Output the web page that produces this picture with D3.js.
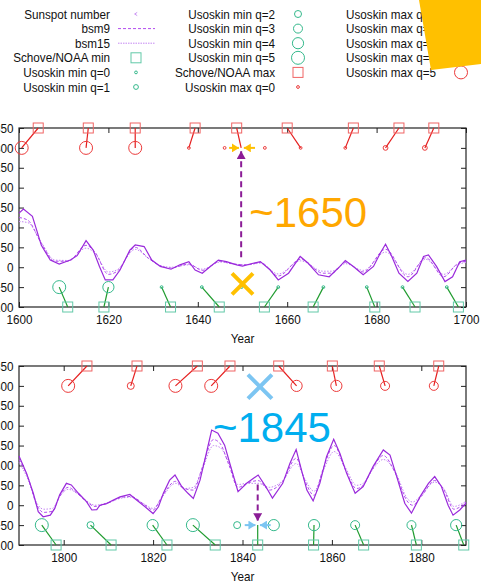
<!DOCTYPE html>
<html>
<head>
<meta charset="utf-8">
<script src="https://cdn.jsdelivr.net/npm/d3@7"></script>
<style>
  html, body { margin: 0; padding: 0; background: #fff; overflow: hidden; }
  svg { display: block; font-family: "Liberation Sans", Arial, Helvetica, sans-serif; }
</style>
</head>
<body>
<svg id="chart" width="481" height="588"></svg>
<script>
// ---------------- data: 1600–1700 ----------------
const yearsSsnEarly = [1600, 1601, 1603, 1605, 1607, 1609, 1611.5, 1613, 1615, 1616.6, 1618, 1619.3, 1621, 1622.6,
  1624.8, 1626, 1628, 1629.7, 1631.6, 1634, 1636, 1638, 1639.4, 1641, 1642.8, 1644.6, 1646.4, 1648.7, 1650,
  1651.7, 1654, 1656.2, 1658, 1660.3, 1662.9, 1664.7, 1667, 1669.4, 1671.8, 1673, 1674.8, 1677, 1679.3, 1680.8,
  1682, 1683.4, 1685, 1687, 1689, 1690.5, 1691.6, 1693.4, 1695.3, 1697, 1698.6, 1700];
const ssnEarly = [136, 146, 128, 55, 18, 8, 18, 29, 67, 43, 2, -32, -32, -7,
  43, 56, 52, 18, 2, -5, 6, 14, -7, -15, 2, 18, 14, 6, 3,
  8, 14, -7, -32, -15, 27, 10, -19, -24, 2, 17, 2, -19, 2, 35,
  58, 27, -15, -36, -15, 27, 31, 2, -36, -24, 14, 18];

const yearsBsmEarly = [1600, 1602, 1605, 1608, 1611, 1615, 1617, 1620, 1622, 1626, 1629, 1632, 1634, 1638, 1641,
  1645, 1648, 1651, 1654, 1658, 1663, 1668, 1670, 1673, 1677, 1682, 1687, 1691, 1695, 1698, 1700];
const bsm9Early = [125, 118, 60, 15, 15, 55, 38, -18, -10, 50, 22, 2, -2, 8, -8,
  15, 8, 6, 12, -22, 20, -15, -15, 12, -12, 45, -24, 24, -24, 8, 15];
const bsm15Early = [115, 112, 62, 18, 17, 48, 35, -12, -6, 45, 22, 3, 0, 6, -5,
  13, 8, 6, 10, -17, 16, -10, -10, 9, -8, 38, -18, 20, -18, 6, 12];

// Schove/NOAA maxima paired with Usoskin maxima (q = quality)
const schoveMaxEarly = [1604.3, 1615.5, 1626, 1639.4, 1660, 1674.8, 1685, 1692.8];
const usoMaxEarly    = [1600.6, 1615, 1626, 1638, 1663, 1673, 1682, 1690.8];
const usoMaxEarlyQ   = [5, 5, 5, 0, 0, 0, 1, 1];
const soloMaxEarly   = [1646, 1655];
const soloMaxEarlyQ  = [0, 0];
const schoveMinEarly = [1610.9, 1619, 1633.9, 1644.8, 1654.9, 1665.8, 1679.6, 1688.6, 1698.3];
const usoMinEarly    = [1609, 1620, 1631.9, 1640.9, 1658, 1668.1, 1677.8, 1685.8, 1695.7];
const usoMinEarlyQ   = [5, 4, 0, 0, 0, 0, 0, 0, 0];
const soloMinEarly   = [1649.8];
const soloMinEarlyQ  = [0];
// ambiguous maximum near 1650
const schoveAmbMaxEarly = 1648.7;
const ambMaxEarly = 1649.7;

// ---------------- data: 1790–1890 ----------------
const yearsSsnLate = [1790, 1791.7, 1793.2, 1794.3, 1795.4, 1797, 1798, 1799.1, 1800.6, 1801.7, 1803.3, 1805.1,
  1806.3, 1807.4, 1808.1, 1809.6, 1811.1, 1812.6, 1814.8, 1816.3, 1818.2, 1820, 1821.2, 1822.3, 1823.7, 1824.9,
  1826.4, 1827.8, 1829, 1830.5, 1831.9, 1833.1, 1834.5, 1836, 1837.6, 1839, 1841, 1843.5, 1845.3, 1846.7, 1849,
  1850.6, 1852, 1853.2, 1854.4, 1855.8, 1857.3, 1858.8, 1860.4, 1861.8, 1863.3, 1865.2, 1867, 1869.2, 1871.5,
  1873, 1874.5, 1876.3, 1877.8, 1879.7, 1881.6, 1883, 1884.5, 1886, 1887.1, 1888.6, 1890];
const ssnLate = [124, 80, 30, -16, -29, -25, -8, 26, 55, 51, 30, 9,
  -12, -11, 0, 4, 13, 21, 27, 13, -4, -21, -4, 30, 63, 76,
  47, 30, 17, 63, 130, 189, 181, 151, 88, 34, 56, 76, 45, 18, 55,
  105, 140, 88, 38, 11, 55, 122, 166, 130, 80, 30, 47, 97, 139,
  126, 72, 5, -20, 21, 55, 72, 47, 0, -25, -12, 5];

const yearsBsmLate = [1790, 1792, 1794, 1795.5, 1797.5, 1799, 1801, 1803, 1805, 1807, 1810, 1813, 1815, 1818, 1820,
  1822, 1825, 1827, 1829, 1831, 1833.5, 1835, 1837, 1839, 1841, 1843.5, 1846, 1849, 1852, 1854, 1856, 1858,
  1860.5, 1863, 1865.5, 1867, 1869, 1871.5, 1874, 1877, 1878, 1880, 1883, 1885, 1887.3, 1890];
const bsm9Late = [115, 70, 0, -18, -15, 20, 45, 30, 10, -3, 6, 20, 22, 2, -12,
  22, 60, 42, 38, 95, 165, 155, 100, 45, 55, 62, 38, 60, 118, 60, 25, 90,
  150, 90, 42, 50, 90, 125, 85, 8, 0, 22, 62, 40, -10, 8];
const bsm15Late = [108, 65, 5, -10, -8, 20, 40, 30, 12, 0, 7, 18, 20, 3, -8,
  20, 55, 42, 45, 90, 150, 145, 105, 52, 55, 55, 45, 62, 105, 65, 35, 85,
  135, 95, 50, 55, 88, 115, 88, 15, 8, 25, 58, 42, -3, 10];

const schoveMaxLate = [1805.2, 1816.4, 1829.9, 1837.2, 1848.1, 1860.1, 1870.6, 1883.9];
const usoMaxLate    = [1801, 1815, 1825, 1833, 1852.1, 1861, 1871.9, 1882.8];
const usoMaxLateQ   = [5, 2, 5, 5, 4, 4, 3, 3];
const soloMaxLate   = [];
const soloMaxLateQ  = [];
const schoveMinLate = [1798.3, 1810.6, 1823.1, 1833.9, 1855.9, 1867.1, 1878.9, 1889.5];
const usoMinLate    = [1795.1, 1806, 1819.9, 1828.9, 1856, 1865.2, 1877.8, 1887.8];
const usoMinLateQ   = [5, 2, 4, 5, 4, 3, 3, 4];
const soloMinLate   = [1838.8, 1847];
const soloMinLateQ  = [2, 4];
// ambiguous minimum near 1845
const schoveAmbMinLate = 1843.4;
const ambMinLate = 1843.4;

// ---------------- axis / legend text ----------------
const yTicks = [350, 300, 250, 200, 150, 100, 50, 0, -50, -100];
const xTicksEarly = [1600, 1620, 1640, 1660, 1680, 1700];
const xTicksLate = [1800, 1820, 1840, 1860, 1880];
const xTitle = "Year";
const legendLabels = [
  "Sunspot number", "bsm9", "bsm15", "Schove/NOAA min", "Usoskin min q=0", "Usoskin min q=1",
  "Usoskin min q=2", "Usoskin min q=3", "Usoskin min q=4", "Usoskin min q=5", "Schove/NOAA max", "Usoskin max q=0",
  "Usoskin max q=1", "Usoskin max q=2", "Usoskin max q=3", "Usoskin max q=4", "Usoskin max q=5"
];
const labelEarly = "~1650";
const labelLate = "~1845";

// ---------------- styles ----------------
const C = {
  ssn: "#9A2ADB", bsm9: "#B24BF0", bsm15: "#C487F2",
  minCircle: "#35B98C", minSquare: "#62C9A8", minLink: "#1F9B2E",
  maxCircle: "#EC3A3A", maxSquare: "#F06464", maxLink: "#E51E1E",
  purpleArrow: "#8B1C96", gold: "#FFC000", orangeText: "#FFA700",
  blueText: "#00AEEF", lightBlue: "#7CC5F2"
};
const qRadius = [1.4, 2.4, 3.5, 4.5, 5.6, 6.5];
const SQ = 10;
const TXT_SX = 0.9;
const PLOT_L = 19, PLOT_R = 466;

const svg = d3.select("#chart");
const defs = svg.append("defs");
function arrowMarker(id, color, w, h) {
  defs.append("marker").attr("id", id).attr("viewBox", `0 -${h / 2} ${w} ${h}`)
    .attr("refX", w).attr("refY", 0).attr("markerUnits", "userSpaceOnUse")
    .attr("markerWidth", w).attr("markerHeight", h).attr("orient", "auto")
    .append("path").attr("d", `M0,-${h / 2}L${w},0L0,${h / 2}Z`).attr("fill", color);
}
arrowMarker("ahPurple", C.purpleArrow, 8, 9);
arrowMarker("ahGold", C.gold, 7, 9);
arrowMarker("ahBlue", C.lightBlue, 7, 9);

function smallText(g, x, y, str, anchor, size) {
  return g.append("text")
    .attr("transform", `translate(${x},${y}) scale(${TXT_SX},1)`)
    .attr("text-anchor", anchor).attr("dy", "0.35em")
    .attr("font-size", size || 13).attr("fill", "#111").text(str);
}

function drawPanel(p) {
  const x = d3.scaleLinear().domain(p.xDomain).range([PLOT_L, PLOT_R]);
  const y = d3.scaleLinear().domain([-100, 350]).range([p.bottom, p.top]);
  const g = svg.append("g");

  // frame + inward ticks
  g.append("rect").attr("x", PLOT_L).attr("y", p.top).attr("width", PLOT_R - PLOT_L)
    .attr("height", p.bottom - p.top).attr("fill", "none").attr("stroke", "#222").attr("stroke-width", 1.2);
  const axes = [
    [d3.axisLeft(y).tickValues(yTicks).tickSizeInner(-5).tickSizeOuter(0).tickPadding(6), `translate(${PLOT_L},0)`, true],
    [d3.axisRight(y).tickValues(yTicks).tickSizeInner(-5).tickSizeOuter(0).tickFormat(""), `translate(${PLOT_R},0)`, false],
    [d3.axisBottom(x).tickValues(p.xTicks).tickSizeInner(-5).tickSizeOuter(0).tickPadding(8).tickFormat(d3.format("d")), `translate(0,${p.bottom})`, true],
    [d3.axisTop(x).tickValues(p.xTicks).tickSizeInner(-5).tickSizeOuter(0).tickFormat(""), `translate(0,${p.top})`, false]
  ];
  axes.forEach(([ax, tr]) => {
    const a = g.append("g").attr("transform", tr).call(ax);
    a.select(".domain").remove();
    a.selectAll(".tick line").attr("stroke", "#222");
    a.selectAll(".tick text").attr("font-size", 13).attr("fill", "#111")
      .attr("font-family", "Liberation Sans, Arial, sans-serif")
      .attr("transform", `scale(${TXT_SX},1)`);
  });
  smallText(g, (PLOT_L + PLOT_R) / 2, p.bottom + 31, xTitle, "middle");

  // series
  const mk = (xs, curve) => d3.line().x((d, i) => x(xs[i])).y(d => y(d)).curve(curve);
  g.append("path").attr("d", mk(p.bsmYears, d3.curveMonotoneX)(p.bsm15)).attr("fill", "none")
    .attr("stroke", C.bsm15).attr("stroke-width", 1).attr("stroke-dasharray", "1.5,1.5");
  g.append("path").attr("d", mk(p.bsmYears, d3.curveMonotoneX)(p.bsm9)).attr("fill", "none")
    .attr("stroke", C.bsm9).attr("stroke-width", 1).attr("stroke-dasharray", "3,2");
  g.append("path").attr("d", mk(p.ssnYears, d3.curveLinear)(p.ssn)).attr("fill", "none")
    .attr("stroke", C.ssn).attr("stroke-width", 1.2);

  // links Schove/NOAA -> Usoskin
  p.schoveMin.forEach((s, i) => g.append("line").attr("x1", x(s)).attr("y1", y(-100))
    .attr("x2", x(p.usoMin[i])).attr("y2", y(-50)).attr("stroke", C.minLink).attr("stroke-width", 1.2));
  p.schoveMax.forEach((s, i) => g.append("line").attr("x1", x(s)).attr("y1", y(350))
    .attr("x2", x(p.usoMax[i])).attr("y2", y(300)).attr("stroke", C.maxLink).attr("stroke-width", 1.2));
  if (p.ambMax) g.append("line").attr("x1", x(p.ambMax[0])).attr("y1", y(350))
    .attr("x2", x(p.ambMax[1])).attr("y2", y(300)).attr("stroke", C.maxLink).attr("stroke-width", 1.2);
  if (p.ambMin) g.append("line").attr("x1", x(p.ambMin[0])).attr("y1", y(-100))
    .attr("x2", x(p.ambMin[1])).attr("y2", y(-50)).attr("stroke", C.minLink).attr("stroke-width", 1.2);

  // symbols
  const sq = (yr, v, col) => g.append("rect").attr("x", x(yr) - SQ / 2).attr("y", y(v) - SQ / 2)
    .attr("width", SQ).attr("height", SQ).attr("fill", "none").attr("stroke", col).attr("stroke-width", 1);
  const circ = (yr, v, q, col) => g.append("circle").attr("cx", x(yr)).attr("cy", y(v))
    .attr("r", qRadius[q]).attr("fill", "none").attr("stroke", col).attr("stroke-width", 1);
  p.schoveMin.concat(p.ambMin ? [p.ambMin[0]] : []).forEach(s => sq(s, -100, C.minSquare));
  p.schoveMax.concat(p.ambMax ? [p.ambMax[0]] : []).forEach(s => sq(s, 350, C.maxSquare));
  p.usoMin.forEach((u, i) => circ(u, -50, p.usoMinQ[i], C.minCircle));
  p.soloMin.forEach((u, i) => circ(u, -50, p.soloMinQ[i], C.minCircle));
  p.usoMax.forEach((u, i) => circ(u, 300, p.usoMaxQ[i], C.maxCircle));
  p.soloMax.forEach((u, i) => circ(u, 300, p.soloMaxQ[i], C.maxCircle));

  return { g, x, y };
}

// ---------------- upper panel ----------------
const up = drawPanel({
  top: 128, bottom: 307, xDomain: [1600, 1700], xTicks: xTicksEarly,
  ssnYears: yearsSsnEarly, ssn: ssnEarly, bsmYears: yearsBsmEarly, bsm9: bsm9Early, bsm15: bsm15Early,
  schoveMax: schoveMaxEarly, usoMax: usoMaxEarly, usoMaxQ: usoMaxEarlyQ, soloMax: soloMaxEarly, soloMaxQ: soloMaxEarlyQ,
  schoveMin: schoveMinEarly, usoMin: usoMinEarly, usoMinQ: usoMinEarlyQ, soloMin: soloMinEarly, soloMinQ: soloMinEarlyQ,
  ambMax: [schoveAmbMaxEarly, ambMaxEarly]
});
{
  const { g, x, y } = up;
  // dashed pointer from the curve up to the maximum row
  g.append("line").attr("x1", x(ambMaxEarly)).attr("y1", y(25)).attr("x2", x(ambMaxEarly)).attr("y2", y(292))
    .attr("stroke", C.purpleArrow).attr("stroke-width", 2).attr("stroke-dasharray", "6,4")
    .attr("marker-end", "url(#ahPurple)");
  // converging arrows on the maximum row
  g.append("line").attr("x1", x(1647)).attr("y1", y(300)).attr("x2", x(1649.2)).attr("y2", y(300))
    .attr("stroke", C.gold).attr("stroke-width", 2).attr("marker-end", "url(#ahGold)");
  g.append("line").attr("x1", x(1652.8)).attr("y1", y(300)).attr("x2", x(1650.3)).attr("y2", y(300))
    .attr("stroke", C.gold).attr("stroke-width", 2).attr("marker-end", "url(#ahGold)");
  // cross at the missing minimum
  const cx = x(1650), cy = y(-42), h = 10.5;
  g.append("path").attr("d", `M${cx - h},${cy - h}L${cx + h},${cy + h}M${cx - h},${cy + h}L${cx + h},${cy - h}`)
    .attr("stroke", C.gold).attr("stroke-width", 4).attr("fill", "none");
  g.append("text").attr("x", x(1651.5)).attr("y", y(100)).attr("font-size", 42)
    .attr("fill", C.orangeText).text(labelEarly);
}

// ---------------- lower panel ----------------
const lo = drawPanel({
  top: 366, bottom: 545, xDomain: [1790, 1890], xTicks: xTicksLate,
  ssnYears: yearsSsnLate, ssn: ssnLate, bsmYears: yearsBsmLate, bsm9: bsm9Late, bsm15: bsm15Late,
  schoveMax: schoveMaxLate, usoMax: usoMaxLate, usoMaxQ: usoMaxLateQ, soloMax: soloMaxLate, soloMaxQ: soloMaxLateQ,
  schoveMin: schoveMinLate, usoMin: usoMinLate, usoMinQ: usoMinLateQ, soloMin: soloMinLate, soloMinQ: soloMinLateQ,
  ambMin: [schoveAmbMinLate, ambMinLate]
});
{
  const { g, x, y } = lo;
  g.append("line").attr("x1", x(ambMinLate)).attr("y1", y(52)).attr("x2", x(ambMinLate)).attr("y2", y(-40))
    .attr("stroke", C.purpleArrow).attr("stroke-width", 2).attr("stroke-dasharray", "6,4")
    .attr("marker-end", "url(#ahPurple)");
  g.append("line").attr("x1", x(1840.5)).attr("y1", y(-50)).attr("x2", x(1842.9)).attr("y2", y(-50))
    .attr("stroke", C.lightBlue).attr("stroke-width", 2).attr("marker-end", "url(#ahBlue)");
  g.append("line").attr("x1", x(1846.3)).attr("y1", y(-50)).attr("x2", x(1843.9)).attr("y2", y(-50))
    .attr("stroke", C.lightBlue).attr("stroke-width", 2).attr("marker-end", "url(#ahBlue)");
  const cx = x(1843.9), cy = y(298), h = 12;
  g.append("path").attr("d", `M${cx - h},${cy - h}L${cx + h},${cy + h}M${cx - h},${cy + h}L${cx + h},${cy - h}`)
    .attr("stroke", C.lightBlue).attr("stroke-width", 4).attr("fill", "none");
  g.append("text").attr("x", x(1833.4)).attr("y", y(159)).attr("font-size", 42)
    .attr("fill", C.blueText).text(labelLate);
}

// ---------------- legend ----------------
{
  const lg = svg.append("g");
  const colText = [110, 275, 436], colSample = [136, 298, 461];
  const rowY = i => 14 + i * 14.6;
  legendLabels.forEach((lab, k) => {
    const col = Math.floor(k / 6), row = k % 6;
    const ty = rowY(row), sx = colSample[col];
    smallText(lg, colText[col], ty, lab, "end");
    if (k === 0) {
      lg.append("path").attr("d", `M${sx + 1.2},${ty - 1.6}L${sx - 1.4},${ty}L${sx + 1.2},${ty + 1.6}`)
        .attr("fill", "none").attr("stroke", C.bsm15).attr("stroke-width", 0.9);
    } else if (k === 1 || k === 2) {
      lg.append("line").attr("x1", sx - 18).attr("x2", sx + 19).attr("y1", ty).attr("y2", ty)
        .attr("stroke", k === 1 ? C.bsm9 : C.bsm15).attr("stroke-width", 1)
        .attr("stroke-dasharray", k === 1 ? "3,2" : "1.5,1");
    } else if (k === 3 || k === 10) {
      lg.append("rect").attr("x", sx - SQ / 2).attr("y", ty - SQ / 2).attr("width", SQ).attr("height", SQ)
        .attr("fill", "none").attr("stroke", k === 3 ? C.minSquare : C.maxSquare).attr("stroke-width", 1);
    } else {
      const isMin = k < 10;
      const q = isMin ? k - 4 : k - 11;
      lg.append("circle").attr("cx", sx).attr("cy", ty).attr("r", qRadius[q]).attr("fill", "none")
        .attr("stroke", isMin ? C.minCircle : C.maxCircle).attr("stroke-width", 1);
    }
  });
  // highlight tab in the corner
  svg.append("polygon").attr("points", "419,0 431,70 481,64 481,0").attr("fill", C.gold);
}
</script>
</body>
</html>
